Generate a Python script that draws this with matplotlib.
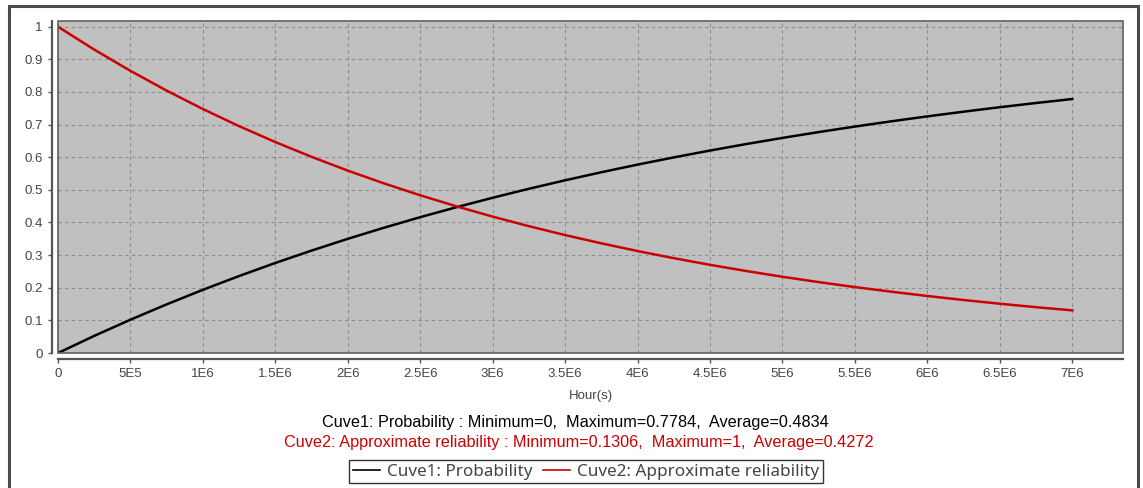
import matplotlib.pyplot as plt
from matplotlib.patches import Rectangle

# data (hours, every 0.25E6)
hours = [0, 0.25e6, 0.5e6, 0.75e6, 1e6, 1.25e6, 1.5e6, 1.75e6, 2e6, 2.25e6, 2.5e6,
         2.75e6, 3e6, 3.25e6, 3.5e6, 3.75e6, 4e6, 4.25e6, 4.5e6, 4.75e6, 5e6,
         5.25e6, 5.5e6, 5.75e6, 6e6, 6.25e6, 6.5e6, 6.75e6, 7e6]
probability = [0, 0.0524, 0.1021, 0.1491, 0.1937, 0.2359, 0.2760, 0.3139, 0.3499,
               0.3840, 0.4163, 0.4468, 0.4758, 0.5033, 0.5293, 0.5540, 0.5774,
               0.5995, 0.6205, 0.6404, 0.6592, 0.6771, 0.6940, 0.7100, 0.7252,
               0.7396, 0.7533, 0.7662, 0.7784]
reliability = [1, 0.9299, 0.8647, 0.8041, 0.7477, 0.6952, 0.6465, 0.6012, 0.5590,
               0.5198, 0.4834, 0.4495, 0.4180, 0.3887, 0.3614, 0.3361, 0.3125,
               0.2906, 0.2702, 0.2513, 0.2336, 0.2173, 0.2020, 0.1879, 0.1747,
               0.1624, 0.1510, 0.1404, 0.1306]

x_ticks = [0, 0.5e6, 1e6, 1.5e6, 2e6, 2.5e6, 3e6, 3.5e6, 4e6, 4.5e6, 5e6, 5.5e6, 6e6, 6.5e6, 7e6]
x_labels = ['0', '5E5', '1E6', '1.5E6', '2E6', '2.5E6', '3E6', '3.5E6', '4E6',
            '4.5E6', '5E6', '5.5E6', '6E6', '6.5E6', '7E6']
y_ticks = [0, 0.1, 0.2, 0.3, 0.4, 0.5, 0.6, 0.7, 0.8, 0.9, 1]
y_labels = ['0', '0.1', '0.2', '0.3', '0.4', '0.5', '0.6', '0.7', '0.8', '0.9', '1']

name1 = 'Cuve1: Probability'
name2 = 'Cuve2: Approximate reliability'
stats1 = 'Cuve1: Probability : Minimum=0,  Maximum=0.7784,  Average=0.4834'
stats2 = 'Cuve2: Approximate reliability : Minimum=0.1306,  Maximum=1,  Average=0.4272'

red = '#cc0000'
W, H = 1143, 488

plt.rcParams['font.family'] = ['Liberation Sans', 'DejaVu Sans']

fig = plt.figure(figsize=(W / 100, H / 100), dpi=100)

# outer frame
fig.patches.append(Rectangle((8.5 / W, -0.05), (1138 - 8.5) / W, 1.05 - 6.5 / H,
                             transform=fig.transFigure, fill=False,
                             edgecolor='#4a4a4a', linewidth=2.2))

ax = fig.add_axes([58 / W, 1 - 353 / H, (1123 - 58) / W, (353 - 21) / H])
ax.set_facecolor('#c0c0c0')

ax.plot(hours, probability, color='black', linewidth=1.8, label=name1)
ax.plot(hours, reliability, color=red, linewidth=1.8, label=name2)

ax.set_xlim(0, 7.35e6)
ax.set_ylim(0, 1.0175)
ax.set_xticks(x_ticks)
ax.set_xticklabels(x_labels)
ax.set_yticks(y_ticks)
ax.set_yticklabels(y_labels)

ax.grid(True, color='#8c8c8c', linestyle=(0, (3, 3)), linewidth=0.8)
ax.set_axisbelow(True)

for s in ['top', 'right']:
    ax.spines[s].set_visible(False)
for s in ['left', 'bottom']:
    ax.spines[s].set_position(('outward', 4.5))
    ax.spines[s].set_color('#555555')
    ax.spines[s].set_linewidth(1.6)

# border of the plot area
ax.add_patch(Rectangle((0, 0), 1, 1, transform=ax.transAxes, fill=False,
                       edgecolor='#606060', linewidth=1.2, clip_on=False, zorder=5))

ax.tick_params(axis='both', colors='#555555', labelcolor='#444444',
               labelsize=9.5, length=3, width=1)

ax.set_xlabel('Hour(s)', fontsize=9.5, color='#444444', labelpad=7)

fig.text(0.503, 1 - 422 / H, stats1, ha='center', va='center', fontsize=11.7, color='black')
fig.text(0.506, 1 - 443 / H, stats2, ha='center', va='center', fontsize=11.7, color=red)

leg = fig.legend(loc='center', bbox_to_anchor=(586 / W, 1 - 471.5 / H), ncol=2,
                 frameon=True, fancybox=False, handlelength=1.6, handletextpad=0.4,
                 columnspacing=0.6, borderpad=0.2,
                 prop={'family': 'Noto Sans', 'size': 12.3})
leg.get_frame().set_edgecolor('black')
leg.get_frame().set_linewidth(1.0)
for line in leg.get_lines():
    line.set_linewidth(1.2)
for t in leg.get_texts():
    t.set_color('#444444')

fig.savefig('out.png', dpi=100)
